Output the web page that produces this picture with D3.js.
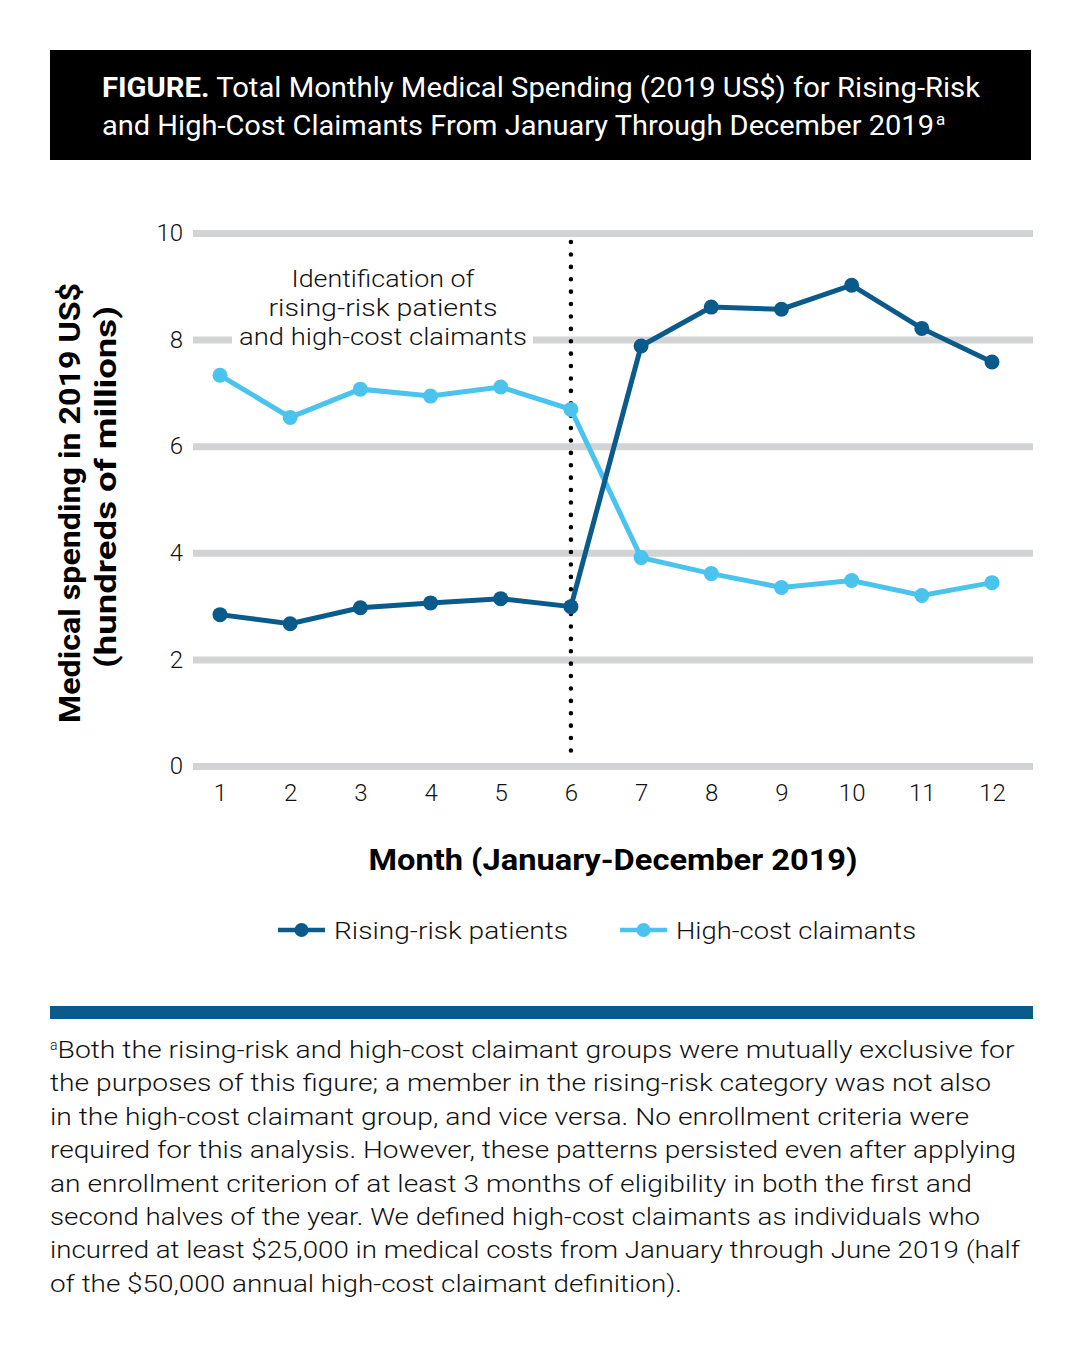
<!DOCTYPE html>
<html>
<head>
<meta charset="utf-8">
<script src="https://cdn.jsdelivr.net/npm/d3@7"></script>
<style>
body { margin: 0; background: #fff; }
svg text { font-family: Roboto, "Noto Sans", sans-serif; }
</style>
</head>
<body>
<script>
// data
var months = [1, 2, 3, 4, 5, 6, 7, 8, 9, 10, 11, 12];
var risingRisk = [2.84, 2.67, 2.97, 3.06, 3.14, 2.99, 7.88, 8.61, 8.57, 9.02, 8.21, 7.58];
var highCost = [7.33, 6.54, 7.07, 6.94, 7.11, 6.69, 3.91, 3.61, 3.35, 3.48, 3.20, 3.44];
var yTicks = [0, 2, 4, 6, 8, 10];
var seriesNames = ["Rising-risk patients", "High-cost claimants"];
var seriesColors = ["#0a5b8c", "#4ac4ef"];
var titleLines = ["Total Monthly Medical Spending (2019 US$) for Rising-Risk",
    "and High-Cost Claimants From January Through December 2019"];
var noteLines = [
    "Both the rising-risk and high-cost claimant groups were mutually exclusive for",
    "the purposes of this figure; a member in the rising-risk category was not also",
    "in the high-cost claimant group, and vice versa. No enrollment criteria were",
    "required for this analysis. However, these patterns persisted even after applying",
    "an enrollment criterion of at least 3 months of eligibility in both the first and",
    "second halves of the year. We defined high-cost claimants as individuals who",
    "incurred at least $25,000 in medical costs from January through June 2019 (half",
    "of the $50,000 annual high-cost claimant definition)."
];
var noteWidths = [964, 941, 919, 966, 922, 930, 970, 632];

var svg = d3.select("body").append("svg")
    .attr("width", 1084)
    .attr("height", 1358);

// header box
svg.append("rect")
    .attr("x", 50).attr("y", 50)
    .attr("width", 981).attr("height", 110)
    .attr("fill", "#000");

var t1 = svg.append("text")
    .attr("x", 102).attr("y", 97)
    .attr("fill", "#fff")
    .attr("font-size", 28)
    .attr("textLength", 878)
    .attr("lengthAdjust", "spacingAndGlyphs");
t1.append("tspan").attr("font-weight", "bold").text("FIGURE.");
t1.append("tspan").text(" " + titleLines[0]);

var t2 = svg.append("text")
    .attr("x", 102).attr("y", 135)
    .attr("fill", "#fff")
    .attr("font-size", 28);
t2.append("tspan").text(titleLines[1])
    .attr("textLength", 832)
    .attr("lengthAdjust", "spacingAndGlyphs");
t2.append("tspan").text("a").attr("font-size", 17).attr("dy", -10).attr("dx", 2);

var x = d3.scaleLinear().domain([1, 12]).range([220, 992]);
var y = d3.scaleLinear().domain([0, 10]).range([766, 233]);

// gridlines + y labels
var yAxis = svg.append("g")
    .attr("transform", "translate(193,0)")
    .call(d3.axisLeft(y).tickValues(yTicks).tickSize(-840).tickPadding(10));
yAxis.select(".domain").remove();
yAxis.selectAll("line").attr("stroke", "#d1d3d4").attr("stroke-width", 7);
yAxis.selectAll("text").attr("font-size", 24).attr("fill", "#111")
    .attr("font-family", "Roboto, sans-serif").attr("font-weight", 300);

var xAxis = svg.append("g")
    .attr("transform", "translate(0,774)")
    .call(d3.axisBottom(x).tickValues(months).tickSize(0).tickPadding(10));
xAxis.select(".domain").remove();
xAxis.selectAll("text").attr("font-size", 24).attr("fill", "#111")
    .attr("font-family", "Roboto, sans-serif").attr("font-weight", 300);

// annotation
svg.append("rect")
    .attr("x", 232).attr("y", 322)
    .attr("width", 301).attr("height", 28)
    .attr("fill", "#fff");
var annLines = ["Identification of", "rising-risk patients", "and high-cost claimants"];
var annWidths = [183, 229, 288];
svg.selectAll(".ann")
    .data(annLines)
    .enter()
    .append("text")
    .attr("class", "ann")
    .attr("x", 383)
    .attr("y", function(d, i) { return 287 + i * 29; })
    .attr("text-anchor", "middle")
    .attr("font-size", 24)
    .attr("font-weight", 300)
    .attr("fill", "#111")
    .attr("textLength", function(d, i) { return annWidths[i]; })
    .attr("lengthAdjust", "spacingAndGlyphs")
    .text(function(d) { return d; });

// dotted divider at month 6
svg.append("line")
    .attr("x1", x(6)).attr("x2", x(6))
    .attr("y1", 242).attr("y2", 756)
    .attr("stroke", "#000")
    .attr("stroke-width", 4.5)
    .attr("stroke-linecap", "round")
    .attr("stroke-dasharray", "0.1 12.3");

// series
var allSeries = [highCost, risingRisk];
var allColors = [seriesColors[1], seriesColors[0]];
var line = d3.line()
    .x(function(d, i) { return x(months[i]); })
    .y(function(d) { return y(d); });

allSeries.forEach(function(vals, k) {
    svg.append("path")
        .attr("d", line(vals))
        .attr("fill", "none")
        .attr("stroke", allColors[k])
        .attr("stroke-width", 5);
    svg.selectAll(".pt" + k)
        .data(vals)
        .enter()
        .append("circle")
        .attr("class", "pt" + k)
        .attr("cx", function(d, i) { return x(months[i]); })
        .attr("cy", function(d) { return y(d); })
        .attr("r", 7.5)
        .attr("fill", allColors[k]);
});

// axis titles
svg.append("text")
    .attr("transform", "translate(80,503) rotate(-90)")
    .attr("text-anchor", "middle")
    .attr("font-size", 29)
    .attr("font-weight", "bold")
    .attr("textLength", 440)
    .attr("lengthAdjust", "spacingAndGlyphs")
    .text("Medical spending in 2019 US$");
svg.append("text")
    .attr("transform", "translate(116,487) rotate(-90)")
    .attr("text-anchor", "middle")
    .attr("font-size", 29)
    .attr("font-weight", "bold")
    .attr("textLength", 362)
    .attr("lengthAdjust", "spacingAndGlyphs")
    .text("(hundreds of millions)");

svg.append("text")
    .attr("x", 613).attr("y", 870)
    .attr("text-anchor", "middle")
    .attr("font-size", 30)
    .attr("font-weight", "bold")
    .attr("textLength", 489)
    .attr("lengthAdjust", "spacingAndGlyphs")
    .text("Month (January-December 2019)");

// legend
var legX = [278, 620];
var legW = [234, 240];
seriesNames.forEach(function(name, i) {
    var g = svg.append("g").attr("transform", "translate(" + legX[i] + ",930)");
    g.append("line").attr("x1", 0).attr("x2", 47)
        .attr("stroke", seriesColors[i]).attr("stroke-width", 4.5);
    g.append("circle").attr("cx", 23.5).attr("r", 7).attr("fill", seriesColors[i]);
    g.append("text")
        .attr("x", 56).attr("y", 9)
        .attr("font-size", 24)
        .attr("font-weight", 300)
        .attr("fill", "#111")
        .attr("textLength", legW[i])
        .attr("lengthAdjust", "spacingAndGlyphs")
        .text(name);
});

// footnote
svg.append("rect")
    .attr("x", 50).attr("y", 1006)
    .attr("width", 983).attr("height", 13)
    .attr("fill", "#0a5b8c");

var notes = svg.selectAll(".note")
    .data(noteLines)
    .enter()
    .append("text")
    .attr("class", "note")
    .attr("x", 50)
    .attr("y", function(d, i) { return 1058 + i * 33.4; })
    .attr("font-size", 23)
    .attr("font-weight", 300)
    .attr("fill", "#111");
notes.each(function(d, i) {
    var el = d3.select(this);
    if (i === 0) {
        el.append("tspan").text("a").attr("font-size", 14).attr("dy", -8);
        el.append("tspan").text(d).attr("dy", 8)
            .attr("textLength", noteWidths[i] - 7)
            .attr("lengthAdjust", "spacingAndGlyphs");
    } else {
        el.append("tspan").text(d)
            .attr("textLength", noteWidths[i])
            .attr("lengthAdjust", "spacingAndGlyphs");
    }
});
</script>
</body>
</html>
